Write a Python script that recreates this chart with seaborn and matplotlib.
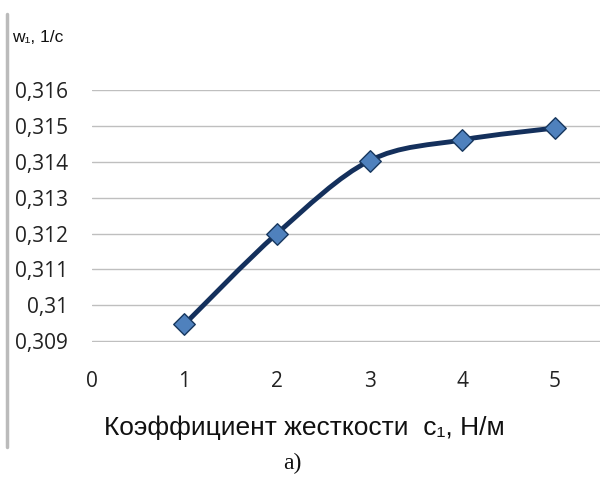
import numpy as np
import pandas as pd
import seaborn as sns
import matplotlib.pyplot as plt
from matplotlib.path import Path
from matplotlib.patches import PathPatch
from matplotlib.lines import Line2D

# data
stiffness = [1, 2, 3, 4, 5]
omega = [0.30947, 0.31200, 0.31403, 0.31461, 0.31494]
y_ticks = [0.309, 0.310, 0.311, 0.312, 0.313, 0.314, 0.315, 0.316]
x_ticks = [0, 1, 2, 3, 4, 5]

df = pd.DataFrame({"c1": stiffness, "w1": omega})

sns.set_theme(style="white")
plt.rcParams["font.family"] = ["Liberation Sans", "DejaVu Sans"]

fig = plt.figure(figsize=(6, 4.8), dpi=100)
ax = fig.add_axes([0.153, 0.2875, 0.847, 0.525])

# smoothed line (Catmull-Rom as cubic Bezier segments, like Excel's smoothed line)
pts = df[["c1", "w1"]].to_numpy()
ext = np.vstack([pts[0], pts, pts[-1]])
verts = [tuple(pts[0])]
codes = [Path.MOVETO]
for i in range(1, len(ext) - 2):
    p0, p1, p2, p3 = ext[i - 1], ext[i], ext[i + 1], ext[i + 2]
    c1 = p1 + (p2 - p0) / 6
    c2 = p2 - (p3 - p1) / 6
    verts += [tuple(c1), tuple(c2), tuple(p2)]
    codes += [Path.CURVE4] * 3
ax.add_patch(PathPatch(Path(verts, codes), facecolor="none", edgecolor="#14305C",
                       lw=3.5, capstyle="round", joinstyle="round", zorder=3, clip_on=False))

sns.scatterplot(data=df, x="c1", y="w1", marker="D", s=120, color="#4F81BD",
                edgecolor="#17375E", linewidth=1.0, zorder=4, clip_on=False, ax=ax)

ax.set_xlim(0, 5.49)
ax.set_ylim(0.30898, 0.316)
ax.set_yticks(y_ticks)
ax.set_yticklabels([f"{v:g}".replace(".", ",") for v in y_ticks])
ax.set_xticks(x_ticks)
ax.set_xticklabels([str(v) for v in x_ticks])
ax.grid(axis="y", color="#BFBFBF", lw=1.0)
ax.grid(axis="x", visible=False)
for s in ax.spines.values():
    s.set_visible(False)
ax.tick_params(axis="both", length=0, labelsize=15, labelcolor="#222222")
ax.tick_params(axis="y", pad=17)
ax.tick_params(axis="x", pad=21)
for lab in ax.get_yticklabels() + ax.get_xticklabels():
    lab.set_family("Open Sans")
ax.set_xlabel("")
ax.set_ylabel("")

fig.text(0.02, 0.922, "w₁, 1/с", fontsize=12.5, color="#111111", va="center", ha="left")
fig.text(0.508, 0.108, "Коэффициент жесткости  с₁, Н/м", fontsize=19, color="#111111",
         ha="center", va="center")
fig.text(0.488, 0.035, "а)", fontsize=17, family=["Liberation Serif", "DejaVu Serif"],
         ha="center", va="center", color="#111111")

fig.add_artist(Line2D([0.012, 0.012], [0.068, 0.97], color="#BBBBBB", lw=2.5))

plt.savefig("out.png", dpi=100)
